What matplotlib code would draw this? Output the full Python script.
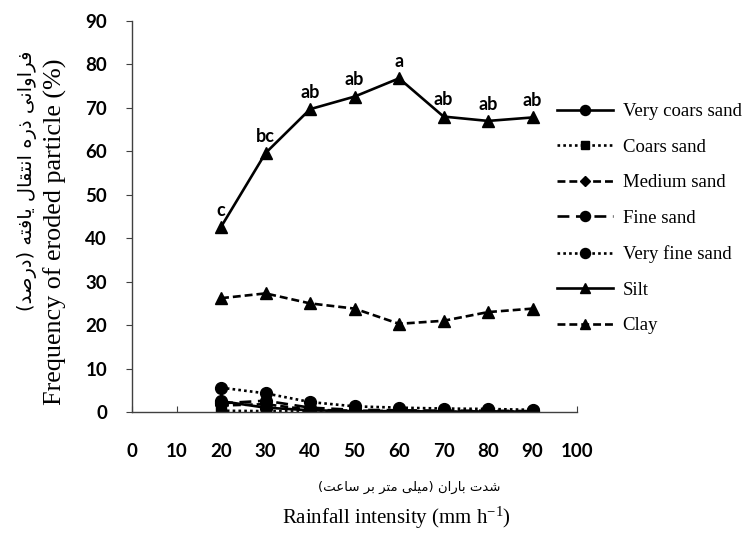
import numpy as np
import matplotlib
matplotlib.use("Agg")
import matplotlib.pyplot as plt
from matplotlib import rc

rc('mathtext', fontset='custom', rm='Liberation Serif', it='Liberation Serif')

### DATA ###
intensity = [20, 30, 40, 50, 60, 70, 80, 90]

very_coars_sand = [2.5, 1.0, 0.4, 0.2, 0.2, 0.1, 0.1, 0.1]
coars_sand = [0.3, 0.2, 0.1, 0.1, 0.1, 0.0, 0.0, 0.0]
medium_sand = [1.5, 1.8, 0.5, 0.3, 0.2, 0.2, 0.1, 0.1]
fine_sand = [2.0, 2.6, 1.0, 0.5, 0.4, 0.3, 0.3, 0.2]
very_fine_sand = [5.6, 4.3, 2.3, 1.3, 1.0, 0.8, 0.7, 0.5]
silt = [42.6, 59.6, 69.7, 72.6, 76.8, 68.0, 67.0, 67.8]
clay = [26.2, 27.3, 25.0, 23.8, 20.3, 21.0, 23.0, 23.8]

silt_letters = ["c", "bc", "ab", "ab", "a", "ab", "ab", "ab"]

xticks = [0, 10, 20, 30, 40, 50, 60, 70, 80, 90, 100]
yticks = [0, 10, 20, 30, 40, 50, 60, 70, 80, 90]

ylabel_en = "Frequency of eroded particle (%)"
ylabel_fa = "فراوانی ذره انتقال یافته (درصد)"
xlabel_en = r"Rainfall intensity (mm h$^{\mathrm{-1}}$)"
xlabel_fa = "شدت باران (میلی متر بر ساعت)"

### Persian shaping (matplotlib has no bidi / joining) ###
# letter: (isolated, final, initial, medial); right-joining letters have 2 forms
FORMS = {
	'ا': ('\uFE8D', '\uFE8E'),
	'د': ('\uFEA9', '\uFEAA'),
	'ذ': ('\uFEAB', '\uFEAC'),
	'ر': ('\uFEAD', '\uFEAE'),
	'و': ('\uFEED', '\uFEEE'),
	'ب': ('\uFE8F', '\uFE90', '\uFE91', '\uFE92'),
	'ت': ('\uFE95', '\uFE96', '\uFE97', '\uFE98'),
	'س': ('\uFEB1', '\uFEB2', '\uFEB3', '\uFEB4'),
	'ش': ('\uFEB5', '\uFEB6', '\uFEB7', '\uFEB8'),
	'ص': ('\uFEB9', '\uFEBA', '\uFEBB', '\uFEBC'),
	'ع': ('\uFEC9', '\uFECA', '\uFECB', '\uFECC'),
	'ف': ('\uFED1', '\uFED2', '\uFED3', '\uFED4'),
	'ق': ('\uFED5', '\uFED6', '\uFED7', '\uFED8'),
	'ل': ('\uFEDD', '\uFEDE', '\uFEDF', '\uFEE0'),
	'م': ('\uFEE1', '\uFEE2', '\uFEE3', '\uFEE4'),
	'ن': ('\uFEE5', '\uFEE6', '\uFEE7', '\uFEE8'),
	'ه': ('\uFEE9', '\uFEEA', '\uFEEB', '\uFEEC'),
	'ی': ('\uFBFC', '\uFBFD', '\uFBFE', '\uFBFF'),
}
MIRROR = {'(': ')', ')': '('}

def shape_fa(text):
	out = []
	for i, ch in enumerate(text):
		if ch not in FORMS:
			out.append(MIRROR.get(ch, ch))
			continue
		prev = text[i-1] if i > 0 else ''
		nxt = text[i+1] if i < len(text)-1 else ''
		join_prev = prev in FORMS and len(FORMS[prev]) == 4
		join_next = len(FORMS[ch]) == 4 and nxt in FORMS
		f = FORMS[ch]
		if join_prev and join_next:
			out.append(f[3])
		elif join_prev:
			out.append(f[1])
		elif join_next:
			out.append(f[2])
		else:
			out.append(f[0])
	return ''.join(reversed(out))

### PLOTTING ###
fig = plt.figure(figsize=(7.48, 5.33), dpi=100)
ax = fig.add_axes([0.1765, 0.227, 0.595, 0.7336])

lw = 1.9
ax.plot(intensity, very_coars_sand, color='k', lw=lw, ls='-', marker='o', ms=8.5, label="Very coars sand")
ax.plot(intensity, coars_sand, color='k', lw=lw, ls=(0, (1, 1.2)), marker='s', ms=7.5, label="Coars sand")
ax.plot(intensity, medium_sand, color='k', lw=lw, ls=(0, (3, 1.5)), marker='D', ms=6, label="Medium sand")
ax.plot(intensity, fine_sand, color='k', lw=lw, ls=(0, (4.5, 2.5)), marker='o', ms=8.5, label="Fine sand")
ax.plot(intensity, very_fine_sand, color='k', lw=lw, ls=(0, (1, 1.2)), marker='o', ms=8.5, label="Very fine sand")
ax.plot(intensity, silt, color='k', lw=lw, ls='-', marker='^', ms=8, label="Silt")
ax.plot(intensity, clay, color='k', lw=lw, ls=(0, (3, 1.5)), marker='^', ms=8, label="Clay")

for x, y, s in zip(intensity, silt, silt_letters):
	ax.annotate(s, xy=(x, y), xytext=(0, 6), textcoords='offset points', ha='center', va='bottom',
		fontsize=13, fontweight='bold', family='Lato')

ax.set_xlim(0, 100)
ax.set_ylim(0, 90)
ax.set_xticks(xticks)
ax.set_yticks(yticks)
for s in ['top', 'right']:
	ax.spines[s].set_visible(False)
for s in ['left', 'bottom']:
	ax.spines[s].set_color('#404040')
	ax.spines[s].set_linewidth(1.0)
ax.tick_params(axis='x', direction='in', length=4, color='#404040', pad=22)
ax.tick_params(axis='y', direction='out', length=4, color='#404040', pad=14)
for lab in ax.get_xticklabels() + ax.get_yticklabels():
	lab.set_fontfamily('Lato')
	lab.set_fontweight('bold')
	lab.set_fontsize(13.5)

fig.text(0.074, 0.565, ylabel_en, rotation=90, ha='center', va='center', fontsize=18.8, family='Liberation Serif')
fig.text(0.036, 0.660, shape_fa(ylabel_fa), rotation=90, ha='center', va='center', fontsize=14, family='DejaVu Sans')
fig.text(0.547, 0.086, shape_fa(xlabel_fa), ha='center', va='center', fontsize=9.5, family='DejaVu Sans')
fig.text(0.53, 0.028, xlabel_en, ha='center', va='center', fontsize=15, family='Liberation Serif')

fig.legend(loc='upper left', bbox_to_anchor=(0.722, 0.838), frameon=False,
	prop={'family': 'Liberation Serif', 'size': 13.5}, handlelength=3.0, labelspacing=0.98,
	handletextpad=0.5, markerscale=0.85)

plt.savefig("out.png", dpi=100)
